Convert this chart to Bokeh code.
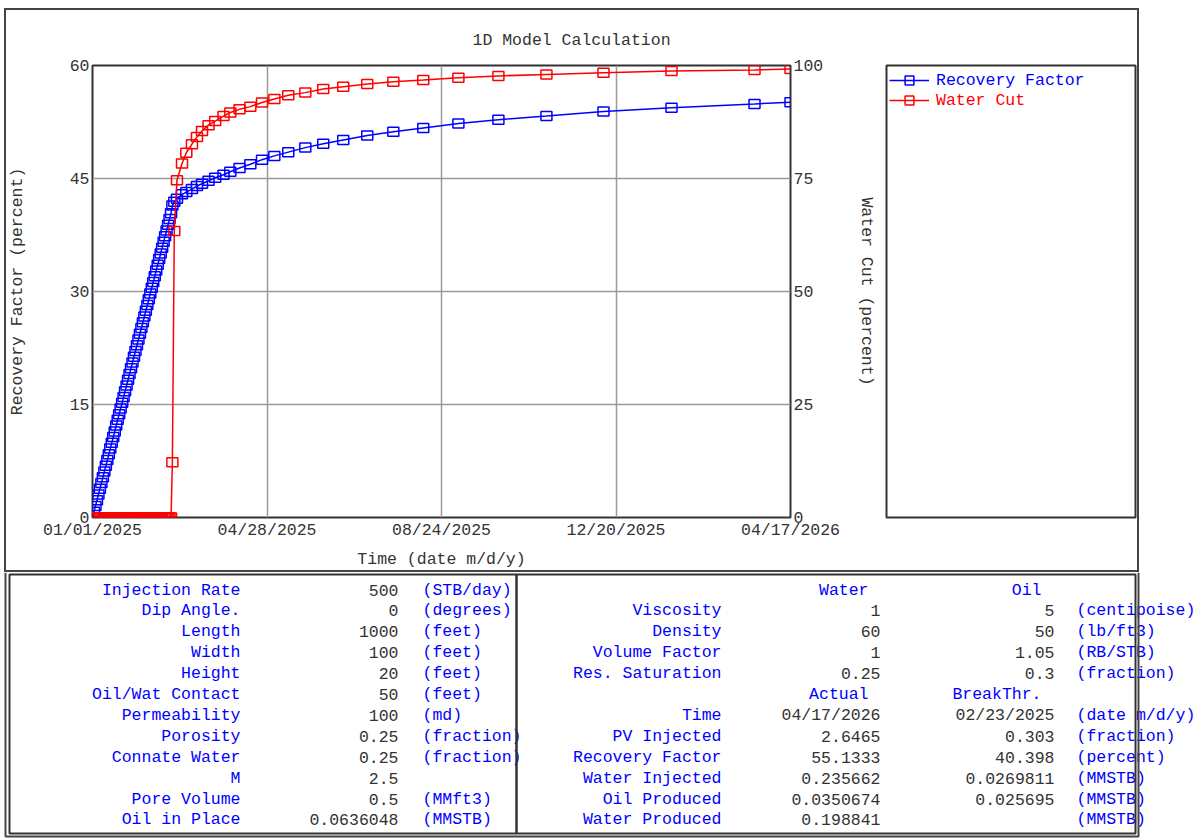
from bokeh.plotting import figure
from bokeh.models import Range1d, LinearAxis, FixedTicker, Legend, LegendItem, ColumnDataSource
from bokeh.layouts import column, row
from bokeh.embed import file_html
from bokeh.resources import INLINE
from bokeh.core.properties import value

FONT = "Liberation Mono"
FS = "16.5px"
TXT = "#333333"
BLUE = "#0000ff"
RED = "#ff0000"

# ---------------- data (days since 01/01/2025) ----------------
days = [0, 1, 2, 3, 4, 5, 6, 7, 8, 9, 10, 11, 12, 13, 14, 15, 16, 17, 18, 19,
        20, 21, 22, 23, 24, 25, 26, 27, 28, 29, 30, 31, 32, 33, 34, 35, 36, 37, 38, 39,
        40, 41, 42, 43, 44, 45, 46, 47, 48, 49, 50, 51, 52, 53,
        53.9, 55.2, 57.0, 60.4, 63.3, 67.1, 70.5, 73.9, 78.3, 82.8, 88.4, 93.0, 99.2,
        106.5, 114.4, 122.7, 132.1, 143.6, 155.7, 169.2, 185.4, 203.0, 223.2, 246.9,
        273.9, 306.3, 344.8, 390.7, 446.7, 471.0]

recovery_factor = [0.00, 0.76, 1.52, 2.29, 3.05, 3.81, 4.57, 5.34, 6.10, 6.86,
                   7.62, 8.38, 9.15, 9.91, 10.67, 11.43, 12.20, 12.96, 13.72, 14.48,
                   15.24, 16.01, 16.77, 17.53, 18.29, 19.06, 19.82, 20.58, 21.34, 22.10,
                   22.87, 23.63, 24.39, 25.15, 25.92, 26.68, 27.44, 28.20, 28.96, 29.73,
                   30.49, 31.25, 32.01, 32.78, 33.54, 34.30, 35.06, 35.82, 36.59, 37.35,
                   38.11, 38.87, 39.64, 40.40,
                   41.4, 41.9, 42.3, 42.9, 43.2, 43.6, 44.0, 44.3, 44.7, 45.1, 45.5, 45.9,
                   46.4, 46.9, 47.5, 48.0, 48.5, 49.1, 49.6, 50.1, 50.7, 51.2, 51.7, 52.3,
                   52.8, 53.3, 53.9, 54.4, 54.9, 55.13]

water_cut = [0, 0, 0, 0, 0, 0, 0, 0, 0, 0, 0, 0, 0, 0, 0, 0, 0, 0, 0, 0,
             0, 0, 0, 0, 0, 0, 0, 0, 0, 0, 0, 0, 0, 0, 0, 0, 0, 0, 0, 0,
             0, 0, 0, 0, 0, 0, 0, 0, 0, 0, 0, 0, 0, 0,
             12.2, 63.4, 74.6, 78.3, 80.7, 82.6, 84.2, 85.5, 86.8, 87.7, 88.8, 89.6,
             90.3, 90.9, 91.8, 92.6, 93.4, 94.0, 94.8, 95.3, 95.9, 96.4, 96.8, 97.3,
             97.7, 98.0, 98.4, 98.8, 99.0, 99.2]

x_ticks = [0, 117.75, 235.5, 353.25, 471]
x_tick_labels = ["01/01/2025", "04/28/2025", "08/24/2025", "12/20/2025", "04/17/2026"]
rf_ticks = [0, 15, 30, 45, 60]
wc_ticks = [0, 25, 50, 75, 100]

left_labels = ["Injection Rate", "Dip Angle.", "Length", "Width", "Height", "Oil/Wat Contact",
               "Permeability", "Porosity", "Connate Water", "M", "Pore Volume", "Oil in Place"]
left_values = ["500", "0", "1000", "100", "20", "50", "100", "0.25", "0.25", "2.5", "0.5", "0.0636048"]
left_units = ["(STB/day)", "(degrees)", "(feet)", "(feet)", "(feet)", "(feet)", "(md)",
              "(fraction)", "(fraction)", "", "(MMft3)", "(MMSTB)"]

right_labels = ["", "Viscosity", "Density", "Volume Factor", "Res. Saturation", "",
                "Time", "PV Injected", "Recovery Factor", "Water Injected", "Oil Produced",
                "Water Produced"]
col1_values = ["Water", "1", "60", "1", "0.25", "Actual", "04/17/2026", "2.6465", "55.1333",
               "0.235662", "0.0350674", "0.198841"]
col2_values = ["Oil", "5", "50", "1.05", "0.3", "BreakThr.", "02/23/2025", "0.303", "40.398",
               "0.0269811", "0.025695", ""]
right_units = ["", "(centipoise)", "(lb/ft3)", "(RB/STB)", "(fraction)", "", "(date m/d/y)",
               "(fraction)", "(percent)", "(MMSTB)", "(MMSTB)", "(MMSTB)"]
header_rows = [0, 5]

# ---------------- chart ----------------
p = figure(width=875, height=564, x_range=Range1d(0, 471), y_range=Range1d(0, 60),
           output_backend="svg", toolbar_location=None, title="1D Model Calculation",
           min_border_left=88, min_border_right=89, min_border_top=57, min_border_bottom=55)
p.extra_y_ranges = {"wc": Range1d(0, 100)}
right_axis = LinearAxis(y_range_name="wc", axis_label="Water Cut (percent)")
p.add_layout(right_axis, "right")

xaxis = p.below[0]
yaxis = p.left[0]
xaxis.ticker = FixedTicker(ticks=x_ticks)
xaxis.major_label_overrides = {t: l for t, l in zip(x_ticks, x_tick_labels)}
xaxis.axis_label = "Time (date m/d/y)"
yaxis.ticker = FixedTicker(ticks=rf_ticks)
yaxis.axis_label = "Recovery Factor (percent)"
right_axis.ticker = FixedTicker(ticks=wc_ticks)

for ax in (xaxis, yaxis, right_axis):
    ax.axis_line_color = None
    ax.major_tick_line_color = None
    ax.minor_tick_line_color = None
    ax.major_tick_out = 0
    ax.major_tick_in = 0
    ax.major_label_text_font = FONT
    ax.major_label_text_font_size = FS
    ax.major_label_text_color = TXT
    ax.axis_label_text_font = FONT
    ax.axis_label_text_font_size = FS
    ax.axis_label_text_color = TXT
    ax.axis_label_text_font_style = "normal"
    ax.major_label_standoff = 3
xaxis.axis_label_standoff = 7
yaxis.axis_label_standoff = 40
right_axis.axis_label_standoff = 31

p.xgrid.ticker = FixedTicker(ticks=x_ticks)
p.ygrid.ticker = FixedTicker(ticks=rf_ticks)
for g in (p.xgrid, p.ygrid):
    g.grid_line_color = "#9a9a9a"
    g.grid_line_width = 1.5

p.outline_line_color = "#333333"
p.outline_line_width = 2
p.outline_line_alpha = 1
p.border_fill_color = None
p.background_fill_color = None

p.title.align = "left"
p.title.offset = 380
p.title.text_font = FONT
p.title.text_font_size = FS
p.title.text_font_style = "normal"
p.title.text_color = TXT
p.title.standoff = 31

src = ColumnDataSource(dict(days=days, rf=recovery_factor, wc=water_cut))
p.line("days", "rf", source=src, line_color=BLUE, line_width=1.5)
p.rect("days", "rf", width=11, height=9, width_units="screen", height_units="screen",
       source=src, fill_color=None, line_color=BLUE, line_width=1.5)
p.line("days", "wc", source=src, y_range_name="wc", line_color=RED, line_width=1.5)
p.rect("days", "wc", width=11, height=9, width_units="screen", height_units="screen",
       source=src, y_range_name="wc", fill_color=None, line_color=RED, line_width=1.5)

# ---------------- legend box ----------------
lf = figure(width=260, height=564, x_range=Range1d(0, 1), y_range=Range1d(0, 1),
            x_axis_type=None, y_axis_type=None, output_backend="svg", toolbar_location=None,
            min_border_left=7, min_border_right=4, min_border_top=57, min_border_bottom=55)
lf.grid.visible = False
lf.outline_line_color = "#333333"
lf.outline_line_width = 2
lf.border_fill_color = None
lf.background_fill_color = None

legend_specs = [("Recovery Factor", BLUE, 426), ("Water Cut", RED, 406)]
for name, col, ypos in legend_specs:
    # legend swatches only (a single point far outside the visible range)
    rl = lf.line(x=[-10, -9], y=[-10, -10], line_color=col, line_width=1.5)
    rm = lf.scatter(x=[-10], y=[-10], marker="square", size=10, line_color=col,
                    fill_color=None, line_width=1.5)
    lg = Legend(items=[LegendItem(label=name, renderers=[rl, rm])], location=(3, ypos),
                glyph_width=40, glyph_height=22, label_height=20, label_standoff=7,
                padding=0, margin=0, spacing=0, border_line_color=None,
                background_fill_alpha=0, label_text_font=FONT, label_text_font_size=FS,
                label_text_color=col)
    lf.add_layout(lg)

top = row(p, lf, margin=(8, 0, 0, 4),
          styles={"outline": "2px solid #444444", "outline-offset": "-2px"})

# ---------------- parameter table ----------------
tf = figure(width=1199, height=266, x_range=Range1d(0, 1199), y_range=Range1d(838, 572),
            x_axis_type=None, y_axis_type=None, output_backend="svg", toolbar_location=None,
            min_border_left=0, min_border_right=0, min_border_top=0, min_border_bottom=0)
tf.grid.visible = False
tf.outline_line_color = None
tf.border_fill_color = None
tf.background_fill_color = None

ROW0, STEP = 589.5, 20.9
rows_y = [ROW0 + i * STEP for i in range(len(left_labels))]


def put(xs, ys, texts, align, color):
    tf.text(x=xs, y=ys, text=texts, text_align=align, text_baseline="middle",
            text_font=value(FONT), text_font_size=value(FS), text_color=color)


n = len(rows_y)
put([240] * n, rows_y, left_labels, "right", BLUE)
put([398] * n, rows_y, left_values, "right", TXT)
put([422] * n, rows_y, left_units, "left", BLUE)
put([721] * n, rows_y, right_labels, "right", BLUE)
val_rows = [i for i in range(n) if i not in header_rows]
put([880] * len(val_rows), [rows_y[i] for i in val_rows], [col1_values[i] for i in val_rows], "right", TXT)
put([1054] * len(val_rows), [rows_y[i] for i in val_rows], [col2_values[i] for i in val_rows], "right", TXT)
put([868] * len(header_rows), [rows_y[i] for i in header_rows], [col1_values[i] for i in header_rows], "right", BLUE)
put([1041] * len(header_rows), [rows_y[i] for i in header_rows], [col2_values[i] for i in header_rows], "right", BLUE)
put([1076] * n, rows_y, right_units, "left", BLUE)

# table boxes and lower part of the outer frame
tf.quad(left=[9, 516], right=[516, 1135], top=[574, 574], bottom=[833, 833],
        fill_color=None, line_color="#333333", line_width=2)
tf.line(x=[5, 5, 1138, 1138], y=[572, 836, 836, 572], line_color="#444444", line_width=2)

layout = column(top, tf)
open("out.html", "w").write(file_html(layout, INLINE))
